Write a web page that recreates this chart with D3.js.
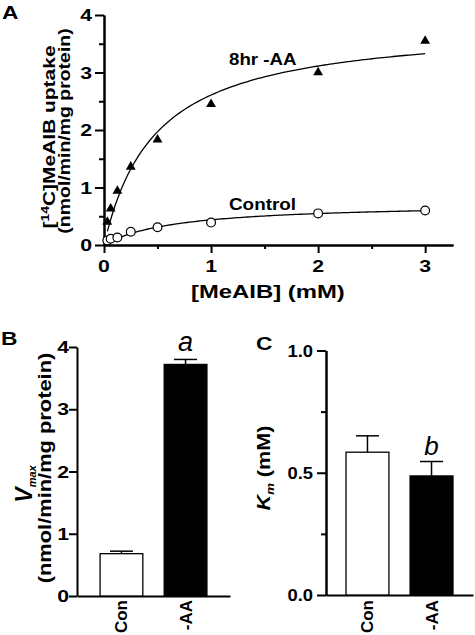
<!DOCTYPE html>
<html><head><meta charset="utf-8">
<script src="https://cdn.jsdelivr.net/npm/d3@7"></script>
<style>
html,body{margin:0;padding:0;background:#fff;}
svg{display:block;}
text{font-family:"Liberation Sans",Arial,Helvetica,sans-serif;font-weight:bold;fill:#000;}
</style></head><body>
<svg id="chart" width="475" height="635"></svg>
<script>
// ---- Panel A data ----
const conc = [0.03125, 0.0625, 0.125, 0.25, 0.5, 1, 2, 3];
const aaUptake = [0.40, 0.63, 0.94, 1.36, 1.83, 2.45, 3.00, 3.55];
const controlUptake = [0.08, 0.11, 0.13, 0.23, 0.31, 0.39, 0.55, 0.60];
const aaFit = [3.86, 0.48];       // fitted Vmax, Km (Michaelis-Menten)
const controlFit = [0.73, 0.67];  // fitted Vmax, Km
const xTicksA = [0, 1, 2, 3];
const xMinorA = [0.5, 1.5, 2.5];
const yTicksA = [0, 1, 2, 3, 4];
const yMinorA = [0.5, 1.5, 2.5, 3.5];
// ---- Panel B data ----
const groups = ["Con", "-AA"];
const vmaxMean = [0.68, 3.72];
const vmaxSE = [0.04, 0.08];
const yTicksB = [0, 1, 2, 3, 4];
// ---- Panel C data ----
const kmMean = [0.584, 0.487];
const kmSE = [0.067, 0.059];
const yTicksC = [0, 0.5, 1.0];
const yMinorC = [0.25, 0.75];
const yTickLabelsC = ["0.0", "0.5", "1.0"];

const svg = d3.select("#chart");

function label(x, y, str, o = {}) {
  const t = svg.append("text")
    .attr("transform", `translate(${x},${y}) rotate(${o.rot || 0}) scale(${o.sx || 1},1)`)
    .attr("text-anchor", o.anchor || "middle")
    .style("font-size", (o.size || 16) + "px");
  if (o.italic) t.style("font-style", "italic");
  if (str !== null) t.text(str);
  return t;
}
function styleAxis(g, w) {
  g.selectAll("path,line").attr("stroke", "#000").attr("stroke-width", w || 2);
  g.selectAll("text").remove();
}

// ================= Panel A =================
const xA = d3.scaleLinear([0, 3.26], [104, 453]);
const yA = d3.scaleLinear([0, 4], [245, 15]);

svg.append("g").attr("transform", `translate(0,${yA(0)})`)
  .call(d3.axisBottom(xA).tickValues(xTicksA).tickSize(8).tickSizeOuter(0))
  .call(g => styleAxis(g));
svg.append("g").attr("transform", `translate(0,${yA(0)})`)
  .call(d3.axisBottom(xA).tickValues(xMinorA).tickSize(4).tickSizeOuter(0))
  .call(g => styleAxis(g));
svg.append("g").attr("transform", `translate(${xA(0)},0)`)
  .call(d3.axisLeft(yA).tickValues(yTicksA).tickSize(9).tickSizeOuter(0))
  .call(g => styleAxis(g));
svg.append("g").attr("transform", `translate(${xA(0)},0)`)
  .call(d3.axisLeft(yA).tickValues(yMinorA).tickSize(5).tickSizeOuter(0))
  .call(g => styleAxis(g));

xTicksA.forEach(v => label(xA(v), 272, String(v), {size: 17, sx: 1.25}));
yTicksA.forEach(v => label(92, yA(v) + 6, String(v), {size: 17, sx: 1.25, anchor: "end"}));

// fitted curves
const fitPts = (p) => d3.range(0, 121).map(i => {
  const x = conc[0] + (conc[conc.length - 1] - conc[0]) * i / 120;
  return [x, p[0] * x / (p[1] + x)];
});
const lineA = d3.line().x(d => xA(d[0])).y(d => yA(d[1])).curve(d3.curveLinear);
svg.append("path").attr("d", lineA(fitPts(aaFit))).attr("fill", "none").attr("stroke", "#000").attr("stroke-width", 1.3);
svg.append("path").attr("d", lineA(fitPts(controlFit))).attr("fill", "none").attr("stroke", "#000").attr("stroke-width", 1.3);

const tri = d3.symbol().type(d3.symbolTriangle).size(42);
svg.append("g").selectAll("path").data(conc).join("path")
  .attr("d", tri).attr("transform", (d, i) => `translate(${xA(d)},${yA(aaUptake[i])})`)
  .attr("fill", "#000");
svg.append("g").selectAll("circle").data(conc).join("circle")
  .attr("cx", d => xA(d)).attr("cy", (d, i) => yA(controlUptake[i])).attr("r", 4.4)
  .attr("fill", "#fff").attr("stroke", "#000").attr("stroke-width", 1.2);

label(229, 65, "8hr -AA", {size: 16, sx: 1.17, anchor: "start"});
label(229, 210, "Control", {size: 16, sx: 1.18, anchor: "start"});
label(191, 298, "[MeAIB] (mM)", {size: 18.5, sx: 1.29, anchor: "start"});
label(2, 19, "A", {size: 19, sx: 1.2, anchor: "start"});

// y title A
{
  const t = label(55, 137, null, {size: 16.5, sx: 1.27, rot: -90});
  t.append("tspan").text("[");
  t.append("tspan").text("14").style("font-size", "11px").attr("dy", -6);
  t.append("tspan").text("C]MeAIB uptake").attr("dy", 6);
  label(70, 131, "(nmol/min/mg protein)", {size: 16.5, sx: 1.18, rot: -90});
}

// ================= Panel B =================
const xB = d3.scaleBand(groups, [77, 230]).paddingInner(0.333).paddingOuter(0.36);
const yB = d3.scaleLinear([0, 4], [596, 347]);

svg.append("g").attr("transform", `translate(0,${yB(0)})`)
  .call(d3.axisBottom(xB).tickSize(0).tickSizeOuter(0))
  .call(g => styleAxis(g));
svg.append("g").attr("transform", `translate(77,0)`)
  .call(d3.axisLeft(yB).tickValues(yTicksB).tickSize(8).tickSizeOuter(0))
  .call(g => styleAxis(g));
yTicksB.forEach(v => label(69, yB(v) + 6, String(v), {size: 17, sx: 1.25, anchor: "end"}));

groups.forEach((gname, i) => {
  const cx = xB(gname) + xB.bandwidth() / 2;
  svg.append("line").attr("x1", cx).attr("x2", cx).attr("y1", yB(vmaxMean[i])).attr("y2", yB(vmaxMean[i] + vmaxSE[i]))
    .attr("stroke", "#000").attr("stroke-width", 1.5);
  svg.append("line").attr("x1", cx - 11.5).attr("x2", cx + 11.5).attr("y1", yB(vmaxMean[i] + vmaxSE[i])).attr("y2", yB(vmaxMean[i] + vmaxSE[i]))
    .attr("stroke", "#000").attr("stroke-width", 1.5);
});
svg.append("g").selectAll("rect").data(groups).join("rect")
  .attr("x", d => xB(d)).attr("width", xB.bandwidth())
  .attr("y", (d, i) => yB(vmaxMean[i])).attr("height", (d, i) => yB(0) - yB(vmaxMean[i]))
  .attr("fill", (d, i) => i === 0 ? "#fff" : "#000").attr("stroke", "#000").attr("stroke-width", 1.3);
groups.forEach(gname => {
  const cx = xB(gname) + xB.bandwidth() / 2;
  label(cx + 6, 600, gname, {size: 17, rot: -90, anchor: "end"});
});
label(xB("-AA") + xB.bandwidth() / 2, 351, "a", {size: 27, italic: true}).style("font-weight", "normal");
label(1, 345, "B", {size: 19, sx: 1.2, anchor: "start"});
{
  const t = label(32, 484, null, {size: 23, rot: -90});
  t.append("tspan").text("V").style("font-style", "italic");
  t.append("tspan").text("max").style("font-size", "11px").style("font-style", "italic").attr("dy", 4);
  label(51, 468, "(nmol/min/mg protein)", {size: 19, sx: 1.15, rot: -90});
}

// ================= Panel C =================
const xC = d3.scaleBand(groups, [326, 473]).paddingInner(0.33).paddingOuter(0.3125);
const yC = d3.scaleLinear([0, 1], [595, 350.5]);

svg.append("g").attr("transform", `translate(0,${yC(0)})`)
  .call(d3.axisBottom(xC).tickSize(0).tickSizeOuter(0))
  .call(g => styleAxis(g));
svg.append("g").attr("transform", `translate(326,0)`)
  .call(d3.axisLeft(yC).tickValues(yTicksC).tickSize(9).tickSizeOuter(0))
  .call(g => styleAxis(g));
svg.append("g").attr("transform", `translate(326,0)`)
  .call(d3.axisLeft(yC).tickValues(yMinorC).tickSize(5).tickSizeOuter(0))
  .call(g => styleAxis(g));
yTicksC.forEach((v, i) => label(313, yC(v) + 6, yTickLabelsC[i], {size: 16, sx: 1.15, anchor: "end"}));

groups.forEach((gname, i) => {
  const cx = xC(gname) + xC.bandwidth() / 2;
  svg.append("line").attr("x1", cx).attr("x2", cx).attr("y1", yC(kmMean[i])).attr("y2", yC(kmMean[i] + kmSE[i]))
    .attr("stroke", "#000").attr("stroke-width", 1.5);
  svg.append("line").attr("x1", cx - 11.5).attr("x2", cx + 11.5).attr("y1", yC(kmMean[i] + kmSE[i])).attr("y2", yC(kmMean[i] + kmSE[i]))
    .attr("stroke", "#000").attr("stroke-width", 1.5);
});
svg.append("g").selectAll("rect").data(groups).join("rect")
  .attr("x", d => xC(d)).attr("width", xC.bandwidth())
  .attr("y", (d, i) => yC(kmMean[i])).attr("height", (d, i) => yC(0) - yC(kmMean[i]))
  .attr("fill", (d, i) => i === 0 ? "#fff" : "#000").attr("stroke", "#000").attr("stroke-width", 1.3);
groups.forEach(gname => {
  const cx = xC(gname) + xC.bandwidth() / 2;
  label(cx + 6, 600, gname, {size: 17, rot: -90, anchor: "end"});
});
label(xC("-AA") + xC.bandwidth() / 2, 455, "b", {size: 26, italic: true}).style("font-weight", "normal");
label(256, 350, "C", {size: 19, sx: 1.2, anchor: "start"});
{
  const t = label(270, 468, null, {size: 18, sx: 1.2, rot: -90});
  t.append("tspan").text("K").style("font-style", "italic");
  t.append("tspan").text("m").style("font-size", "11px").style("font-style", "italic").attr("dy", 4);
  t.append("tspan").text(" (mM)").attr("dy", -4);
}
</script>
</body></html>
